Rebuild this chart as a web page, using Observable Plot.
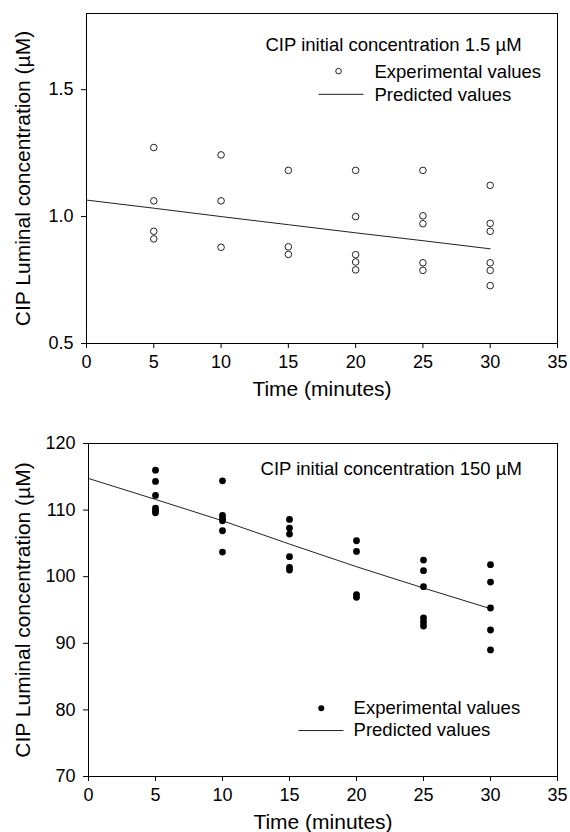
<!DOCTYPE html>
<html><head><meta charset="utf-8">
<script src="https://cdn.jsdelivr.net/npm/d3@7"></script>
<script src="https://cdn.jsdelivr.net/npm/@observablehq/plot@0.6"></script>
<style>
body{margin:0;background:#fff;}
#chart svg{display:block;}
</style></head><body><div id="chart"></div>
<script>
// ---- data ----
const xTicks = [0, 5, 10, 15, 20, 25, 30, 35];
const topYTicks = [0.5, 1.0, 1.5];
const bottomYTicks = [70, 80, 90, 100, 110, 120];
const times = [5, 10, 15, 20, 25, 30];
const predTimes = [0, 5, 10, 15, 20, 25, 30];

// CIP initial concentration 1.5 µM
const lowExp = [
  [1.272, 1.062, 0.942, 0.912],
  [1.243, 1.062, 0.879],
  [1.182, 0.881, 0.851],
  [1.182, 1.000, 0.850, 0.821, 0.790],
  [1.182, 1.003, 0.972, 0.818, 0.788],
  [1.123, 0.973, 0.942, 0.818, 0.788, 0.728]
];
const lowPred = [1.065, 1.033, 1.000, 0.968, 0.936, 0.905, 0.873];

// CIP initial concentration 150 µM
const highExp = [
  [116.0, 114.3, 112.2, 110.3, 109.9, 109.6],
  [114.4, 109.2, 108.7, 108.4, 106.9, 103.7],
  [108.6, 107.3, 106.4, 103.0, 101.4, 101.0],
  [105.4, 103.8, 97.3, 96.9],
  [102.5, 100.9, 98.5, 93.8, 93.2, 92.6],
  [101.8, 99.2, 95.3, 92.0, 89.0]
];
const highPred = [114.75, 111.6, 108.4, 104.9, 101.5, 98.3, 95.2];

const yLabel = "CIP Luminal concentration (µM)";
const xLabel = "Time (minutes)";
const lowTitle = "CIP initial concentration 1.5 µM";
const highTitle = "CIP initial concentration 150 µM";
const expLabel = "Experimental values";
const predLabel = "Predicted values";

// ---- tables ----
const toPoints = (arr) => times.flatMap((t, i) => arr[i].map(v => ({t, v})));
const toLine = (arr) => predTimes.map((t, i) => ({t, v: arr[i]}));

const FONT = "'Liberation Sans', Arial, Helvetica, sans-serif";
const LEG = 18.5;
const LAB = 21;

function chart(o) {
  return Plot.plot({
    width: 570, height: o.height,
    marginTop: o.mt, marginBottom: o.mb, marginLeft: o.ml, marginRight: 13,
    style: {fontFamily: FONT, fontSize: "18px", color: "#000", background: "#fff", overflow: "visible"},
    x: {domain: [0, 35], ticks: xTicks, label: null, tickSize: 5, tickPadding: 7},
    y: {domain: o.yDomain, ticks: o.yTicks, tickFormat: o.yFormat, label: null, tickSize: 5, tickPadding: 8},
    marks: [
      Plot.frame({stroke: "#000", strokeWidth: 1}),
      Plot.text([xLabel], {frameAnchor: "bottom", dy: 46, lineAnchor: "middle", textAnchor: "middle", fontSize: LAB, fill: "#000"}),
      Plot.text([yLabel], {frameAnchor: "left", dx: o.labelDx, rotate: -90, textAnchor: "middle", lineAnchor: "middle", fontSize: LAB, fill: "#000"}),
      ...o.marks
    ]
  });
}

const chartLow = chart({
  height: 415, mt: 13, mb: 72, ml: 86,
  yDomain: [0.5, 1.8], yTicks: topYTicks, yFormat: d3.format(".1f"), labelDx: -63,
  marks: [
    Plot.line(toLine(lowPred), {x: "t", y: "v", stroke: "#222", strokeWidth: 1}),
    Plot.dot(toPoints(lowExp), {x: "t", y: "v", r: 3.3, stroke: "#222", strokeWidth: 1, fill: "none"}),
    // legend
    Plot.text([lowTitle], {x: 13.3, y: 1.674, textAnchor: "start", fontSize: LEG, fill: "#000"}),
    Plot.dot([0], {x: 18.73, y: 1.573, r: 2.8, stroke: "#222", strokeWidth: 1, fill: "none"}),
    Plot.text([expLabel], {x: 21.4, y: 1.569, textAnchor: "start", fontSize: LEG, fill: "#000"}),
    Plot.link([0], {x1: 17.24, x2: 20.58, y1: 1.4815, y2: 1.4815, stroke: "#222", strokeWidth: 1}),
    Plot.text([predLabel], {x: 21.4, y: 1.478, textAnchor: "start", fontSize: LEG, fill: "#000"})
  ]
});

const chartHigh = chart({
  height: 417, mt: 28, mb: 56, ml: 88,
  yDomain: [70, 120], yTicks: bottomYTicks, yFormat: d3.format("d"), labelDx: -65,
  marks: [
    Plot.line(toLine(highPred), {x: "t", y: "v", stroke: "#222", strokeWidth: 1}),
    Plot.dot(toPoints(highExp), {x: "t", y: "v", r: 3.4, fill: "#000", stroke: "none"}),
    // legend
    Plot.text([highTitle], {x: 12.84, y: 116.2, textAnchor: "start", fontSize: LEG, fill: "#000"}),
    Plot.dot([0], {x: 17.37, y: 80.25, r: 3, fill: "#000"}),
    Plot.text([expLabel], {x: 19.78, y: 80.25, textAnchor: "start", fontSize: LEG, fill: "#000"}),
    Plot.link([0], {x1: 15.67, x2: 19.03, y1: 76.9, y2: 76.9, stroke: "#222", strokeWidth: 1}),
    Plot.text([predLabel], {x: 19.78, y: 76.9, textAnchor: "start", fontSize: LEG, fill: "#000"})
  ]
});

document.getElementById("chart").append(chartLow, chartHigh);
</script>
</body></html>
